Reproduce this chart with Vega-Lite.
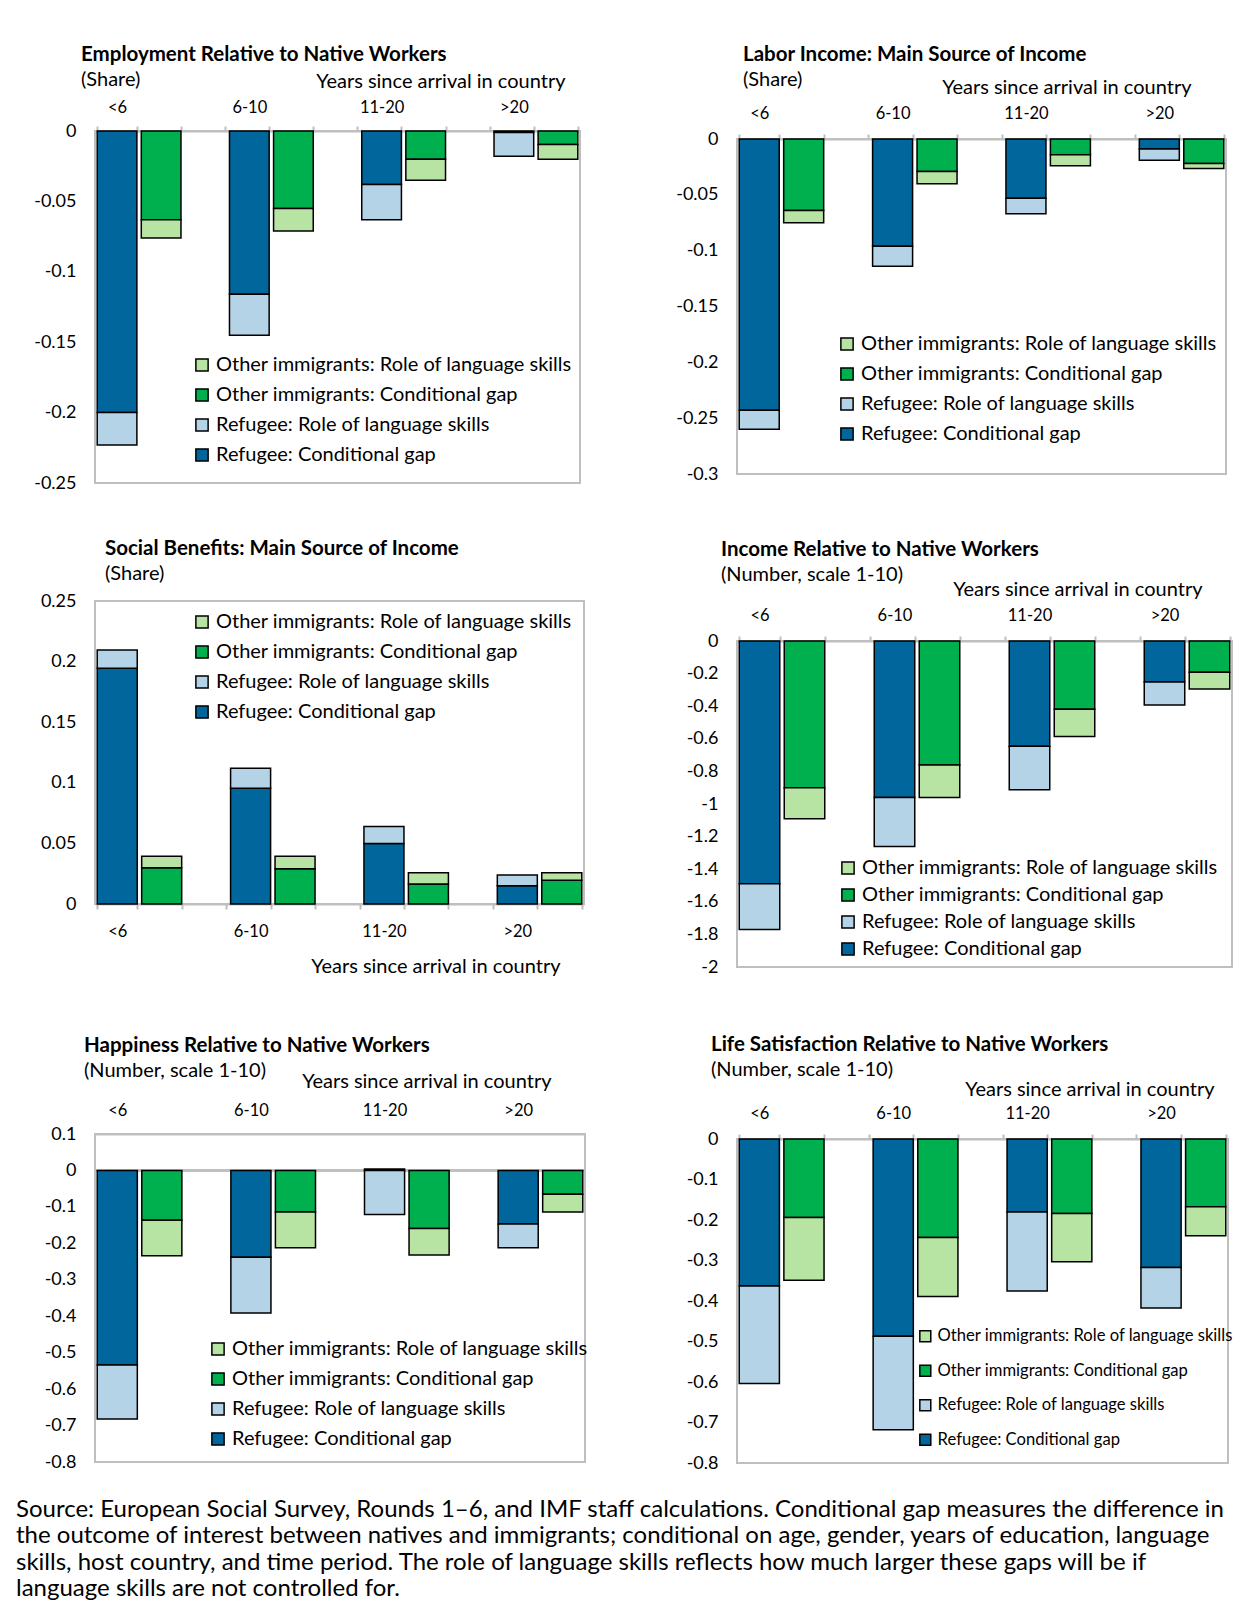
{
  "$schema": "https://vega.github.io/schema/vega-lite/v6.json",
  "padding": {"left": 16, "top": 33, "right": 5, "bottom": 0},
  "background": "white",
  "config": {
    "font": "Lato",
    "view": {"stroke": "#bfbfbf", "strokeWidth": 2},
    "axis": {"labelFont": "Lato", "titleFont": "Lato", "labelColor": "#000", "titleColor": "#000", "grid": false, "labelOverlap": false},
    "axisX": {"labelFontSize": 16.5, "titleFontSize": 20, "titleFontWeight": "normal", "labelAngle": 0, "domainColor": "#bfbfbf", "domainWidth": 2, "tickBand": "extent", "tickColor": "#bfbfbf", "tickWidth": 2, "tickSize": 5, "titleAlign": "right"},
    "axisY": {"labelFontSize": 18, "labelPadding": 19, "ticks": false, "domain": false},
    "title": {"font": "Lato", "fontSize": 20.5, "fontWeight": "bold", "color": "#000", "subtitleFont": "Lato", "subtitleFontSize": 20, "subtitleColor": "#000", "subtitlePadding": 4.5},
    "legend": {"labelFont": "Lato", "labelFontSize": 20, "labelColor": "#000", "labelLimit": 0, "symbolType": "square", "symbolSize": 150, "symbolStrokeColor": "#000", "symbolStrokeWidth": 1.5, "rowPadding": 10}
  },
  "title": {
    "text": [
      "Source: European Social Survey, Rounds 1–6, and IMF staff calculations. Conditional gap measures the difference in",
      "the outcome of interest between natives and immigrants; conditional on age, gender, years of education, language",
      "skills, host country, and time period. The role of language skills reflects how much larger these gaps will be if",
      "language skills are not controlled for."
    ],
    "orient": "bottom", "anchor": "start", "fontSize": 24, "fontWeight": "normal", "lineHeight": 26.3, "offset": 25
  },
  "datasets": {
    "bars": [
      {"p": "emp", "slot": "<6|R", "series": "Refugee: Conditional gap", "comp": "Conditional gap", "v": -0.200},
      {"p": "emp", "slot": "<6|R", "series": "Refugee: Role of language skills", "comp": "Role of language skills", "v": -0.023},
      {"p": "emp", "slot": "<6|O", "series": "Other immigrants: Conditional gap", "comp": "Conditional gap", "v": -0.063},
      {"p": "emp", "slot": "<6|O", "series": "Other immigrants: Role of language skills", "comp": "Role of language skills", "v": -0.013},
      {"p": "emp", "slot": "6-10|R", "series": "Refugee: Conditional gap", "comp": "Conditional gap", "v": -0.116},
      {"p": "emp", "slot": "6-10|R", "series": "Refugee: Role of language skills", "comp": "Role of language skills", "v": -0.029},
      {"p": "emp", "slot": "6-10|O", "series": "Other immigrants: Conditional gap", "comp": "Conditional gap", "v": -0.055},
      {"p": "emp", "slot": "6-10|O", "series": "Other immigrants: Role of language skills", "comp": "Role of language skills", "v": -0.016},
      {"p": "emp", "slot": "11-20|R", "series": "Refugee: Conditional gap", "comp": "Conditional gap", "v": -0.038},
      {"p": "emp", "slot": "11-20|R", "series": "Refugee: Role of language skills", "comp": "Role of language skills", "v": -0.025},
      {"p": "emp", "slot": "11-20|O", "series": "Other immigrants: Conditional gap", "comp": "Conditional gap", "v": -0.020},
      {"p": "emp", "slot": "11-20|O", "series": "Other immigrants: Role of language skills", "comp": "Role of language skills", "v": -0.015},
      {"p": "emp", "slot": ">20|R", "series": "Refugee: Conditional gap", "comp": "Conditional gap", "v": -0.001},
      {"p": "emp", "slot": ">20|R", "series": "Refugee: Role of language skills", "comp": "Role of language skills", "v": -0.017},
      {"p": "emp", "slot": ">20|O", "series": "Other immigrants: Conditional gap", "comp": "Conditional gap", "v": -0.0095},
      {"p": "emp", "slot": ">20|O", "series": "Other immigrants: Role of language skills", "comp": "Role of language skills", "v": -0.0105},

      {"p": "lab", "slot": "<6|R", "series": "Refugee: Conditional gap", "comp": "Conditional gap", "v": -0.243},
      {"p": "lab", "slot": "<6|R", "series": "Refugee: Role of language skills", "comp": "Role of language skills", "v": -0.017},
      {"p": "lab", "slot": "<6|O", "series": "Other immigrants: Conditional gap", "comp": "Conditional gap", "v": -0.064},
      {"p": "lab", "slot": "<6|O", "series": "Other immigrants: Role of language skills", "comp": "Role of language skills", "v": -0.011},
      {"p": "lab", "slot": "6-10|R", "series": "Refugee: Conditional gap", "comp": "Conditional gap", "v": -0.096},
      {"p": "lab", "slot": "6-10|R", "series": "Refugee: Role of language skills", "comp": "Role of language skills", "v": -0.018},
      {"p": "lab", "slot": "6-10|O", "series": "Other immigrants: Conditional gap", "comp": "Conditional gap", "v": -0.029},
      {"p": "lab", "slot": "6-10|O", "series": "Other immigrants: Role of language skills", "comp": "Role of language skills", "v": -0.011},
      {"p": "lab", "slot": "11-20|R", "series": "Refugee: Conditional gap", "comp": "Conditional gap", "v": -0.053},
      {"p": "lab", "slot": "11-20|R", "series": "Refugee: Role of language skills", "comp": "Role of language skills", "v": -0.014},
      {"p": "lab", "slot": "11-20|O", "series": "Other immigrants: Conditional gap", "comp": "Conditional gap", "v": -0.014},
      {"p": "lab", "slot": "11-20|O", "series": "Other immigrants: Role of language skills", "comp": "Role of language skills", "v": -0.010},
      {"p": "lab", "slot": ">20|R", "series": "Refugee: Conditional gap", "comp": "Conditional gap", "v": -0.009},
      {"p": "lab", "slot": ">20|R", "series": "Refugee: Role of language skills", "comp": "Role of language skills", "v": -0.010},
      {"p": "lab", "slot": ">20|O", "series": "Other immigrants: Conditional gap", "comp": "Conditional gap", "v": -0.022},
      {"p": "lab", "slot": ">20|O", "series": "Other immigrants: Role of language skills", "comp": "Role of language skills", "v": -0.0045},

      {"p": "soc", "slot": "<6|R", "series": "Refugee: Conditional gap", "comp": "Conditional gap", "v": 0.1945},
      {"p": "soc", "slot": "<6|R", "series": "Refugee: Role of language skills", "comp": "Role of language skills", "v": 0.015},
      {"p": "soc", "slot": "<6|O", "series": "Other immigrants: Conditional gap", "comp": "Conditional gap", "v": 0.030},
      {"p": "soc", "slot": "<6|O", "series": "Other immigrants: Role of language skills", "comp": "Role of language skills", "v": 0.0095},
      {"p": "soc", "slot": "6-10|R", "series": "Refugee: Conditional gap", "comp": "Conditional gap", "v": 0.0955},
      {"p": "soc", "slot": "6-10|R", "series": "Refugee: Role of language skills", "comp": "Role of language skills", "v": 0.0165},
      {"p": "soc", "slot": "6-10|O", "series": "Other immigrants: Conditional gap", "comp": "Conditional gap", "v": 0.029},
      {"p": "soc", "slot": "6-10|O", "series": "Other immigrants: Role of language skills", "comp": "Role of language skills", "v": 0.0105},
      {"p": "soc", "slot": "11-20|R", "series": "Refugee: Conditional gap", "comp": "Conditional gap", "v": 0.050},
      {"p": "soc", "slot": "11-20|R", "series": "Refugee: Role of language skills", "comp": "Role of language skills", "v": 0.014},
      {"p": "soc", "slot": "11-20|O", "series": "Other immigrants: Conditional gap", "comp": "Conditional gap", "v": 0.0165},
      {"p": "soc", "slot": "11-20|O", "series": "Other immigrants: Role of language skills", "comp": "Role of language skills", "v": 0.0093},
      {"p": "soc", "slot": ">20|R", "series": "Refugee: Conditional gap", "comp": "Conditional gap", "v": 0.015},
      {"p": "soc", "slot": ">20|R", "series": "Refugee: Role of language skills", "comp": "Role of language skills", "v": 0.009},
      {"p": "soc", "slot": ">20|O", "series": "Other immigrants: Conditional gap", "comp": "Conditional gap", "v": 0.0195},
      {"p": "soc", "slot": ">20|O", "series": "Other immigrants: Role of language skills", "comp": "Role of language skills", "v": 0.0063},

      {"p": "inc", "slot": "<6|R", "series": "Refugee: Conditional gap", "comp": "Conditional gap", "v": -1.49},
      {"p": "inc", "slot": "<6|R", "series": "Refugee: Role of language skills", "comp": "Role of language skills", "v": -0.28},
      {"p": "inc", "slot": "<6|O", "series": "Other immigrants: Conditional gap", "comp": "Conditional gap", "v": -0.90},
      {"p": "inc", "slot": "<6|O", "series": "Other immigrants: Role of language skills", "comp": "Role of language skills", "v": -0.19},
      {"p": "inc", "slot": "6-10|R", "series": "Refugee: Conditional gap", "comp": "Conditional gap", "v": -0.96},
      {"p": "inc", "slot": "6-10|R", "series": "Refugee: Role of language skills", "comp": "Role of language skills", "v": -0.30},
      {"p": "inc", "slot": "6-10|O", "series": "Other immigrants: Conditional gap", "comp": "Conditional gap", "v": -0.76},
      {"p": "inc", "slot": "6-10|O", "series": "Other immigrants: Role of language skills", "comp": "Role of language skills", "v": -0.20},
      {"p": "inc", "slot": "11-20|R", "series": "Refugee: Conditional gap", "comp": "Conditional gap", "v": -0.645},
      {"p": "inc", "slot": "11-20|R", "series": "Refugee: Role of language skills", "comp": "Role of language skills", "v": -0.267},
      {"p": "inc", "slot": "11-20|O", "series": "Other immigrants: Conditional gap", "comp": "Conditional gap", "v": -0.418},
      {"p": "inc", "slot": "11-20|O", "series": "Other immigrants: Role of language skills", "comp": "Role of language skills", "v": -0.168},
      {"p": "inc", "slot": ">20|R", "series": "Refugee: Conditional gap", "comp": "Conditional gap", "v": -0.251},
      {"p": "inc", "slot": ">20|R", "series": "Refugee: Role of language skills", "comp": "Role of language skills", "v": -0.141},
      {"p": "inc", "slot": ">20|O", "series": "Other immigrants: Conditional gap", "comp": "Conditional gap", "v": -0.192},
      {"p": "inc", "slot": ">20|O", "series": "Other immigrants: Role of language skills", "comp": "Role of language skills", "v": -0.102},

      {"p": "hap", "slot": "<6|R", "series": "Refugee: Conditional gap", "comp": "Conditional gap", "v": -0.534},
      {"p": "hap", "slot": "<6|R", "series": "Refugee: Role of language skills", "comp": "Role of language skills", "v": -0.148},
      {"p": "hap", "slot": "<6|O", "series": "Other immigrants: Conditional gap", "comp": "Conditional gap", "v": -0.137},
      {"p": "hap", "slot": "<6|O", "series": "Other immigrants: Role of language skills", "comp": "Role of language skills", "v": -0.097},
      {"p": "hap", "slot": "6-10|R", "series": "Refugee: Conditional gap", "comp": "Conditional gap", "v": -0.238},
      {"p": "hap", "slot": "6-10|R", "series": "Refugee: Role of language skills", "comp": "Role of language skills", "v": -0.153},
      {"p": "hap", "slot": "6-10|O", "series": "Other immigrants: Conditional gap", "comp": "Conditional gap", "v": -0.114},
      {"p": "hap", "slot": "6-10|O", "series": "Other immigrants: Role of language skills", "comp": "Role of language skills", "v": -0.098},
      {"p": "hap", "slot": "11-20|R", "series": "Refugee: Conditional gap", "comp": "Conditional gap", "v": 0.004},
      {"p": "hap", "slot": "11-20|R", "series": "Refugee: Role of language skills", "comp": "Role of language skills", "v": -0.121},
      {"p": "hap", "slot": "11-20|O", "series": "Other immigrants: Conditional gap", "comp": "Conditional gap", "v": -0.159},
      {"p": "hap", "slot": "11-20|O", "series": "Other immigrants: Role of language skills", "comp": "Role of language skills", "v": -0.073},
      {"p": "hap", "slot": ">20|R", "series": "Refugee: Conditional gap", "comp": "Conditional gap", "v": -0.147},
      {"p": "hap", "slot": ">20|R", "series": "Refugee: Role of language skills", "comp": "Role of language skills", "v": -0.065},
      {"p": "hap", "slot": ">20|O", "series": "Other immigrants: Conditional gap", "comp": "Conditional gap", "v": -0.065},
      {"p": "hap", "slot": ">20|O", "series": "Other immigrants: Role of language skills", "comp": "Role of language skills", "v": -0.049},

      {"p": "life", "slot": "<6|R", "series": "Refugee: Conditional gap", "comp": "Conditional gap", "v": -0.363},
      {"p": "life", "slot": "<6|R", "series": "Refugee: Role of language skills", "comp": "Role of language skills", "v": -0.241},
      {"p": "life", "slot": "<6|O", "series": "Other immigrants: Conditional gap", "comp": "Conditional gap", "v": -0.194},
      {"p": "life", "slot": "<6|O", "series": "Other immigrants: Role of language skills", "comp": "Role of language skills", "v": -0.155},
      {"p": "life", "slot": "6-10|R", "series": "Refugee: Conditional gap", "comp": "Conditional gap", "v": -0.487},
      {"p": "life", "slot": "6-10|R", "series": "Refugee: Role of language skills", "comp": "Role of language skills", "v": -0.231},
      {"p": "life", "slot": "6-10|O", "series": "Other immigrants: Conditional gap", "comp": "Conditional gap", "v": -0.243},
      {"p": "life", "slot": "6-10|O", "series": "Other immigrants: Role of language skills", "comp": "Role of language skills", "v": -0.146},
      {"p": "life", "slot": "11-20|R", "series": "Refugee: Conditional gap", "comp": "Conditional gap", "v": -0.180},
      {"p": "life", "slot": "11-20|R", "series": "Refugee: Role of language skills", "comp": "Role of language skills", "v": -0.195},
      {"p": "life", "slot": "11-20|O", "series": "Other immigrants: Conditional gap", "comp": "Conditional gap", "v": -0.184},
      {"p": "life", "slot": "11-20|O", "series": "Other immigrants: Role of language skills", "comp": "Role of language skills", "v": -0.119},
      {"p": "life", "slot": ">20|R", "series": "Refugee: Conditional gap", "comp": "Conditional gap", "v": -0.317},
      {"p": "life", "slot": ">20|R", "series": "Refugee: Role of language skills", "comp": "Role of language skills", "v": -0.100},
      {"p": "life", "slot": ">20|O", "series": "Other immigrants: Conditional gap", "comp": "Conditional gap", "v": -0.167},
      {"p": "life", "slot": ">20|O", "series": "Other immigrants: Role of language skills", "comp": "Role of language skills", "v": -0.072}
    ]
  },
  "resolve": {"legend": {"color": "independent"}},
  "spacing": 84,
  "hconcat": [
    {
      "resolve": {"legend": {"color": "independent"}},
      "spacing": 10,
      "vconcat": [
        {"width": 1, "height": 1, "view": {"stroke": null}, "data": {"values": []}, "mark": "rule", "encoding": {}},
        {
          "resolve": {"legend": {"color": "independent"}},
          "spacing": 57,
          "vconcat": [
            {
              "resolve": {"legend": {"color": "independent"}},
              "spacing": 45,
              "vconcat": [
                {
                  "width": 485, "height": 352,
                  "title": {"text": "Employment Relative to Native Workers", "subtitle": "(Share)", "anchor": "start", "frame": "group", "dx": -14, "offset": -19},
                  "data": {"name": "bars"},
                  "transform": [{"filter": "datum.p === 'emp'"}],
                  "mark": {"type": "bar", "stroke": "#000", "strokeWidth": 1.5},
                  "encoding": {
                    "x": {"field": "slot", "type": "nominal",
                      "scale": {"domain": ["<6|R", "<6|O", "g1", "6-10|R", "6-10|O", "g2", "11-20|R", "11-20|O", "g3", ">20|R", ">20|O"], "paddingInner": 0.1, "paddingOuter": 0.05},
                      "axis": {"orient": "top", "title": "Years since arrival in country", "titleX": 470, "labelPadding": 11, "titlePadding": 8, "labelExpr": "indexof(datum.value + '', '|R') > 0 ? split(datum.value + '', '|')[0] : ''"}},
                    "y": {"field": "v", "type": "quantitative", "stack": "zero",
                      "scale": {"domain": [-0.25, 0], "nice": false},
                      "axis": {"title": null, "values": [0, -0.05, -0.1, -0.15, -0.2, -0.25], "labelExpr": "'' + datum.value", "minExtent": 78, "maxExtent": 78}},
                    "color": {"field": "series", "type": "nominal",
                      "scale": {"domain": ["Other immigrants: Role of language skills", "Other immigrants: Conditional gap", "Refugee: Role of language skills", "Refugee: Conditional gap"], "range": ["#b7e4a2", "#00b04f", "#b5d3e7", "#00669c"]},
                      "legend": {"title": null, "orient": "none", "legendX": 97, "legendY": 224}},
                    "order": {"field": "comp", "type": "nominal", "sort": "ascending"}
                  }
                },
                {
                  "width": 489, "height": 303,
                  "title": {"text": "Social Benefits: Main Source of Income", "subtitle": "(Share)", "anchor": "start", "frame": "group", "dx": 10, "offset": 8},
                  "data": {"name": "bars"},
                  "transform": [{"filter": "datum.p === 'soc'"}],
                  "mark": {"type": "bar", "stroke": "#000", "strokeWidth": 1.5},
                  "encoding": {
                    "x": {"field": "slot", "type": "nominal",
                      "scale": {"domain": ["<6|R", "<6|O", "g1", "6-10|R", "6-10|O", "g2", "11-20|R", "11-20|O", "g3", ">20|R", ">20|O"], "paddingInner": 0.1, "paddingOuter": 0.05},
                      "axis": {"orient": "bottom", "title": "Years since arrival in country", "titleX": 465, "labelPadding": 14, "titlePadding": 17, "labelExpr": "indexof(datum.value + '', '|R') > 0 ? split(datum.value + '', '|')[0] : ''"}},
                    "y": {"field": "v", "type": "quantitative", "stack": "zero",
                      "scale": {"domain": [0, 0.25], "nice": false},
                      "axis": {"title": null, "values": [0, 0.05, 0.1, 0.15, 0.2, 0.25], "labelExpr": "'' + datum.value", "minExtent": 78, "maxExtent": 78}},
                    "color": {"field": "series", "type": "nominal",
                      "scale": {"domain": ["Other immigrants: Role of language skills", "Other immigrants: Conditional gap", "Refugee: Role of language skills", "Refugee: Conditional gap"], "range": ["#b7e4a2", "#00b04f", "#b5d3e7", "#00669c"]},
                      "legend": {"title": null, "orient": "none", "legendX": 97, "legendY": 11}},
                    "order": {"field": "comp", "type": "nominal", "sort": "ascending"}
                  }
                }
              ]
            },
            {
              "width": 490, "height": 328,
              "title": {"text": "Happiness Relative to Native Workers", "subtitle": "(Number, scale 1-10)", "anchor": "start", "frame": "group", "dx": -11, "offset": -10},
              "data": {"name": "bars"},
              "transform": [{"filter": "datum.p === 'hap'"}],
              "layer": [
                {
                  "mark": {"type": "rule", "color": "#bfbfbf", "strokeWidth": 2},
                  "encoding": {"y": {"datum": 0, "type": "quantitative",
                    "scale": {"domain": [-0.8, 0.1], "nice": false},
                    "axis": {"title": null, "values": [0.1, 0, -0.1, -0.2, -0.3, -0.4, -0.5, -0.6, -0.7, -0.8], "labelExpr": "'' + datum.value", "labelOverlap": false, "minExtent": 78, "maxExtent": 78}}}
                },
                {
                  "mark": {"type": "bar", "stroke": "#000", "strokeWidth": 1.5},
                  "encoding": {
                    "x": {"field": "slot", "type": "nominal",
                      "scale": {"domain": ["<6|R", "<6|O", "g1", "6-10|R", "6-10|O", "g2", "11-20|R", "11-20|O", "g3", ">20|R", ">20|O"], "paddingInner": 0.1, "paddingOuter": 0.05},
                      "axis": {"orient": "top", "title": "Years since arrival in country", "titleX": 456, "ticks": false, "labelPadding": 16, "titlePadding": 11, "labelExpr": "indexof(datum.value + '', '|R') > 0 ? split(datum.value + '', '|')[0] : ''"}},
                    "y": {"field": "v", "type": "quantitative", "stack": "zero",
                      "scale": {"domain": [-0.8, 0.1], "nice": false},
                      "axis": {"title": null, "values": [0.1, 0, -0.1, -0.2, -0.3, -0.4, -0.5, -0.6, -0.7, -0.8], "labelExpr": "'' + datum.value", "labelOverlap": false, "minExtent": 78, "maxExtent": 78}},
                    "color": {"field": "series", "type": "nominal",
                      "scale": {"domain": ["Other immigrants: Role of language skills", "Other immigrants: Conditional gap", "Refugee: Role of language skills", "Refugee: Conditional gap"], "range": ["#b7e4a2", "#00b04f", "#b5d3e7", "#00669c"]},
                      "legend": {"title": null, "orient": "none", "legendX": 113, "legendY": 205}},
                    "order": {"field": "comp", "type": "nominal", "sort": "ascending"}
                  }
                }
              ]
            }
          ]
        }
      ]
    },
    {
      "resolve": {"legend": {"color": "independent"}},
      "spacing": 10,
      "vconcat": [
        {"width": 1, "height": 1, "view": {"stroke": null}, "data": {"values": []}, "mark": "rule", "encoding": {}},
        {
          "resolve": {"legend": {"color": "independent"}},
          "spacing": 57,
          "vconcat": [
            {
              "resolve": {"legend": {"color": "independent"}},
              "spacing": 55,
              "vconcat": [
                {
                  "width": 489, "height": 335,
                  "title": {"text": "Labor Income: Main Source of Income", "subtitle": "(Share)", "anchor": "start", "frame": "group", "dx": 6, "offset": -13},
                  "data": {"name": "bars"},
                  "transform": [{"filter": "datum.p === 'lab'"}],
                  "mark": {"type": "bar", "stroke": "#000", "strokeWidth": 1.5},
                  "encoding": {
                    "x": {"field": "slot", "type": "nominal",
                      "scale": {"domain": ["<6|R", "<6|O", "g1", "6-10|R", "6-10|O", "g2", "11-20|R", "11-20|O", "g3", ">20|R", ">20|O"], "paddingInner": 0.1, "paddingOuter": 0.05},
                      "axis": {"orient": "top", "title": "Years since arrival in country", "titleX": 454, "labelPadding": 13, "titlePadding": 8, "labelExpr": "indexof(datum.value + '', '|R') > 0 ? split(datum.value + '', '|')[0] : ''"}},
                    "y": {"field": "v", "type": "quantitative", "stack": "zero",
                      "scale": {"domain": [-0.3, 0], "nice": false},
                      "axis": {"title": null, "values": [0, -0.05, -0.1, -0.15, -0.2, -0.25, -0.3], "labelExpr": "'' + datum.value", "minExtent": 60, "maxExtent": 60}},
                    "color": {"field": "series", "type": "nominal",
                      "scale": {"domain": ["Other immigrants: Role of language skills", "Other immigrants: Conditional gap", "Refugee: Role of language skills", "Refugee: Conditional gap"], "range": ["#b7e4a2", "#00b04f", "#b5d3e7", "#00669c"]},
                      "legend": {"title": null, "orient": "none", "legendX": 100, "legendY": 195}},
                    "order": {"field": "comp", "type": "nominal", "sort": "ascending"}
                  }
                },
                {
                  "width": 495, "height": 326,
                  "title": {"text": "Income Relative to Native Workers", "subtitle": "(Number, scale 1-10)", "anchor": "start", "frame": "group", "dx": -16, "offset": -6},
                  "data": {"name": "bars"},
                  "transform": [{"filter": "datum.p === 'inc'"}],
                  "mark": {"type": "bar", "stroke": "#000", "strokeWidth": 1.5},
                  "encoding": {
                    "x": {"field": "slot", "type": "nominal",
                      "scale": {"domain": ["<6|R", "<6|O", "g1", "6-10|R", "6-10|O", "g2", "11-20|R", "11-20|O", "g3", ">20|R", ">20|O"], "paddingInner": 0.1, "paddingOuter": 0.05},
                      "axis": {"orient": "top", "title": "Years since arrival in country", "titleX": 465, "labelPadding": 13, "titlePadding": 8, "labelExpr": "indexof(datum.value + '', '|R') > 0 ? split(datum.value + '', '|')[0] : ''"}},
                    "y": {"field": "v", "type": "quantitative", "stack": "zero",
                      "scale": {"domain": [-2, 0], "nice": false},
                      "axis": {"title": null, "values": [0, -0.2, -0.4, -0.6, -0.8, -1, -1.2, -1.4, -1.6, -1.8, -2], "labelExpr": "'' + datum.value", "minExtent": 60, "maxExtent": 60}},
                    "color": {"field": "series", "type": "nominal",
                      "scale": {"domain": ["Other immigrants: Role of language skills", "Other immigrants: Conditional gap", "Refugee: Role of language skills", "Refugee: Conditional gap"], "range": ["#b7e4a2", "#00b04f", "#b5d3e7", "#00669c"]},
                      "legend": {"title": null, "orient": "none", "legendX": 101, "legendY": 217, "rowPadding": 7}},
                    "order": {"field": "comp", "type": "nominal", "sort": "ascending"}
                  }
                }
              ]
            },
            {
              "width": 491, "height": 324,
              "title": {"text": "Life Satisfaction Relative to Native Workers", "subtitle": "(Number, scale 1-10)", "anchor": "start", "frame": "group", "dx": -26, "offset": -1},
              "data": {"name": "bars"},
              "transform": [{"filter": "datum.p === 'life'"}],
              "mark": {"type": "bar", "stroke": "#000", "strokeWidth": 1.5},
              "encoding": {
                "x": {"field": "slot", "type": "nominal",
                  "scale": {"domain": ["<6|R", "<6|O", "g1", "6-10|R", "6-10|O", "g2", "11-20|R", "11-20|O", "g3", ">20|R", ">20|O"], "paddingInner": 0.1, "paddingOuter": 0.05},
                  "axis": {"orient": "top", "title": "Years since arrival in country", "titleX": 477, "labelPadding": 13, "titlePadding": 6, "labelExpr": "indexof(datum.value + '', '|R') > 0 ? split(datum.value + '', '|')[0] : ''"}},
                "y": {"field": "v", "type": "quantitative", "stack": "zero",
                  "scale": {"domain": [-0.8, 0], "nice": false},
                  "axis": {"title": null, "values": [0, -0.1, -0.2, -0.3, -0.4, -0.5, -0.6, -0.7, -0.8], "labelExpr": "'' + datum.value", "minExtent": 60, "maxExtent": 60}},
                "color": {"field": "series", "type": "nominal",
                  "scale": {"domain": ["Other immigrants: Role of language skills", "Other immigrants: Conditional gap", "Refugee: Role of language skills", "Refugee: Conditional gap"], "range": ["#b7e4a2", "#00b04f", "#b5d3e7", "#00669c"]},
                  "legend": {"title": null, "orient": "none", "legendX": 180, "legendY": 189, "labelFontSize": 16.6, "symbolSize": 120, "rowPadding": 16.5}},
                "order": {"field": "comp", "type": "nominal", "sort": "ascending"}
              }
            }
          ]
        }
      ]
    }
  ]
}
